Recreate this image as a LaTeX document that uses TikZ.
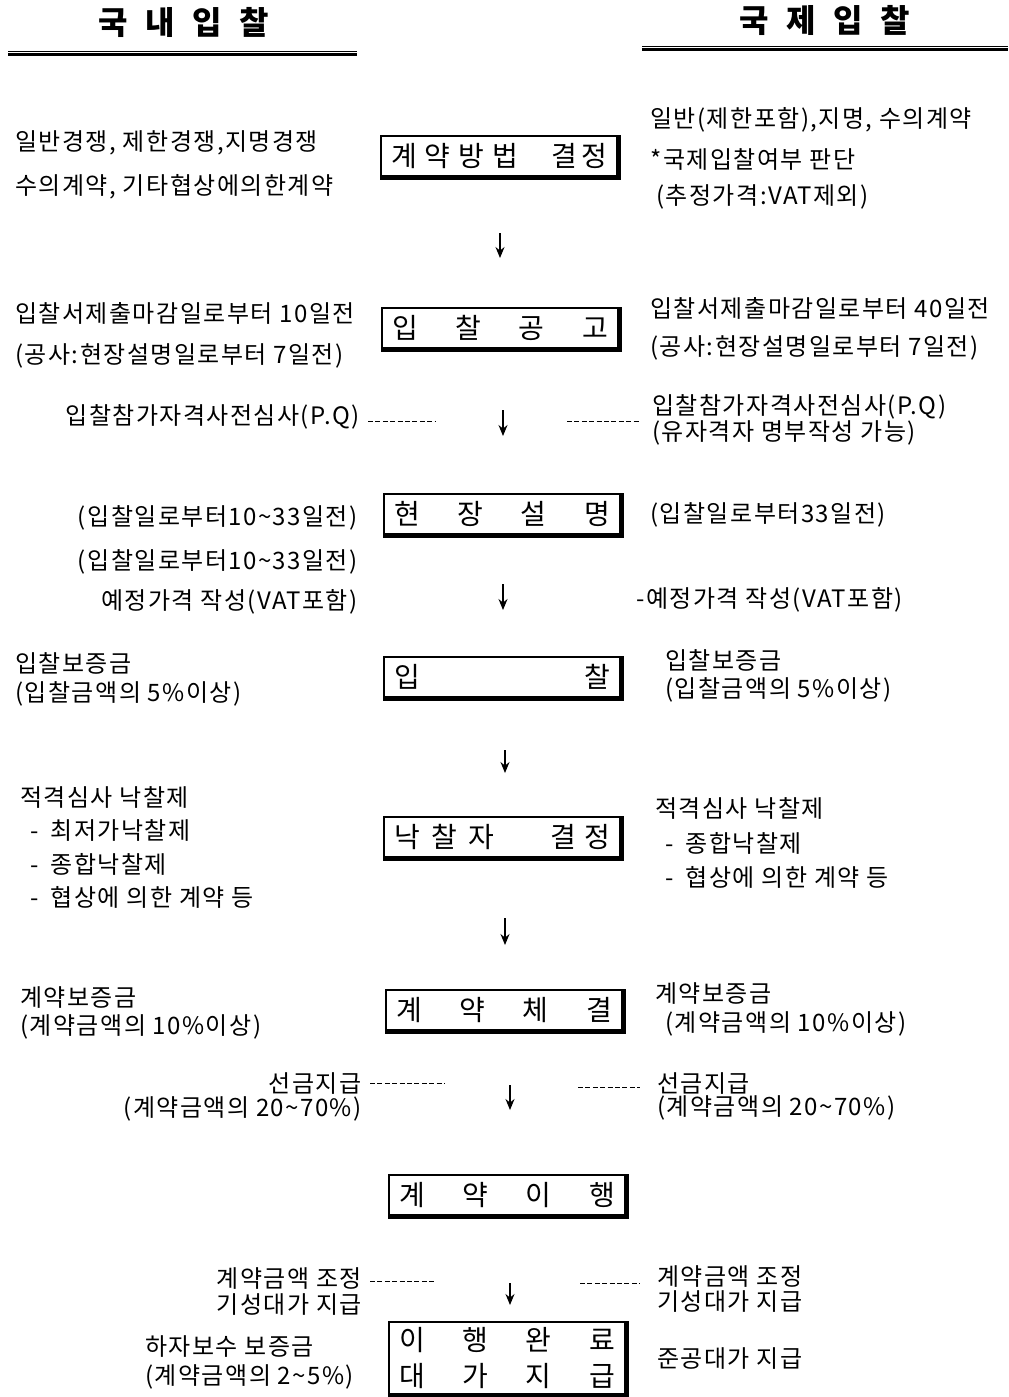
\documentclass[tikz,border=0pt]{standalone}
\usepackage{fontspec}
\setmainfont{Noto Sans CJK KR}
\newfontfamily\bodyfont[LetterSpace=6]{Noto Sans CJK KR}
\usetikzlibrary{arrows.meta}
\begin{document}
\begin{tikzpicture}[x=0.5pt,y=-0.5pt,
 txt/.style={inner sep=0pt, font=\bodyfont\fontsize{12}{14}\selectfont},
 lt/.style={txt, anchor=west},
 rt/.style={txt, anchor=east},
 head/.style={inner sep=0pt, font=\fontsize{16}{18}\selectfont\bfseries},
 flow/.style={draw, line width=0.8pt, minimum width=118pt, minimum height=20pt, inner sep=0pt, font=\fontsize{14}{16}\selectfont},
 arr/.style={line width=0.6pt, -{Stealth[length=5.5pt,width=4.5pt]}},
 dline/.style={line width=0.4pt, dash pattern=on 2.5pt off 1.2pt}
]
\path[use as bounding box, fill=white] (0,0) rectangle (1008,1397);

% headers
\node[head] (h1) at (184,22) {국\hspace{0.55em}내\hspace{0.55em}입\hspace{0.55em}찰};
\node[head] (h2) at (825,20) {국\hspace{0.55em}제\hspace{0.55em}입\hspace{0.55em}찰};
\draw[line width=0.5pt] (8,51) -- (357,51);
\draw[line width=1.2pt] (8,54.5) -- (357,54.5);
\draw[line width=0.5pt] (642,46) -- (1008,46);
\draw[line width=1.2pt] (642,49.5) -- (1008,49.5);

% boxes
\node[flow] (b1) at (499,156) {\makebox[108pt]{계\hfill 약\hfill 방\hfill 법\hskip 0pt plus 4fill 결\hskip 0pt plus 0.5fill 정}};
\node[flow] (b2) at (500,328) {\makebox[108pt]{입\hfill 찰\hfill 공\hfill 고}};
\node[flow] (b3) at (502,514) {\makebox[108pt]{현\hfill 장\hfill 설\hfill 명}};
\node[flow] (b4) at (502,677) {\makebox[108pt]{입\hfill 찰}};
\node[flow] (b5) at (502,837) {\makebox[108pt]{낙\hfill 찰\hfill 자\hskip 0pt plus 5fill 결\hskip 0pt plus 0.7fill 정}};
\node[flow] (b6) at (504,1010) {\makebox[108pt]{계\hfill 약\hfill 체\hfill 결}};
\node[flow] (b7) at (507,1195) {\makebox[108pt]{계\hfill 약\hfill 이\hfill 행}};
\node[flow, minimum height=36pt, align=center, font=\fontsize{14}{18}\selectfont] (b8) at (507,1358) {\makebox[108pt]{이\hfill 행\hfill 완\hfill 료}\\\makebox[108pt]{대\hfill 가\hfill 지\hfill 급}};
\foreach \n in {b1,b2,b3,b4,b5,b6,b7,b8}
  \draw[line width=1.5pt] ([shift={(1.5,0)}]\n.north east) -- ([shift={(1.5,1.5)}]\n.south east) -- ([shift={(0,1.5)}]\n.south west);

% arrows
\coordinate (a1s) at (500,233); \coordinate (a1e) at (500,258);
\coordinate (a2s) at (503,410); \coordinate (a2e) at (503,436);
\coordinate (a3s) at (503,584); \coordinate (a3e) at (503,610);
\coordinate (a4s) at (505,750); \coordinate (a4e) at (505,773);
\coordinate (a5s) at (505,918); \coordinate (a5e) at (505,945);
\coordinate (a6s) at (510,1085); \coordinate (a6e) at (510,1110);
\coordinate (a7s) at (510,1283); \coordinate (a7e) at (510,1305);
\foreach \i in {1,...,7} \draw[arr] (a\i s) -- (a\i e);

% row 1
\node[lt] (t1a) at (15,143) {일반경쟁, 제한경쟁,지명경쟁};
\node[lt] (t1b) at (15,187) {수의계약, 기타협상에의한계약};
\node[lt] (r1a) at (650,120) {일반(제한포함),지명, 수의계약};
\node[lt] (r1b) at (650,159) {*국제입찰여부 판단};
\node[lt] (r1c) at (656,197) {(추정가격:VAT제외)};

% row 2
\node[lt] (t2a) at (15,313) {입찰서제출마감일로부터 10일전};
\node[lt] (t2b) at (15,356) {(공사:현장설명일로부터 7일전)};
\node[lt] (r2a) at (650,308) {입찰서제출마감일로부터 40일전};
\node[lt] (r2b) at (650,348) {(공사:현장설명일로부터 7일전)};

% PQ
\node[rt] (pqL) at (360,417) {입찰참가자격사전심사(P.Q)};
\node[lt] (pqRa) at (652,407) {입찰참가자격사전심사(P.Q)};
\node[lt] (pqRb) at (652,433) {(유자격자 명부작성 가능)};
\coordinate (pqLe) at (435,421);
\coordinate (pqRs) at (567,421);
\coordinate (pqRe) at (640,421);
\draw[dline] ([xshift=4pt]pqL.east |- pqLe) -- (pqLe);
\draw[dline] (pqRs) -- (pqRe);

% row 3
\node[rt] (t3a) at (358,518) {(입찰일로부터10\textasciitilde 33일전)};
\node[rt] (t3b) at (358,562) {(입찰일로부터10\textasciitilde 33일전)};
\node[rt] (t3c) at (358,602) {예정가격 작성(VAT포함)};
\node[lt] (r3a) at (650,515) {(입찰일로부터33일전)};
\node[lt] (r3c) at (636,600) {-예정가격 작성(VAT포함)};

% row 4
\node[lt] (t4a) at (15,663) {입찰보증금};
\node[lt] (t4b) at (15,694) {(입찰금액의 5\%이상)};
\node[lt] (r4a) at (665,660) {입찰보증금};
\node[lt] (r4b) at (665,690) {(입찰금액의 5\%이상)};

% row 5
\node[lt] (t5a) at (20,797) {적격심사 낙찰제};
\node[lt] (t5b) at (30,830) {-\hspace{0.5em}최저가낙찰제};
\node[lt] (t5c) at (30,864) {-\hspace{0.5em}종합낙찰제};
\node[lt] (t5d) at (30,897) {-\hspace{0.5em}협상에 의한 계약 등};
\node[lt] (r5a) at (655,808) {적격심사 낙찰제};
\node[lt] (r5b) at (665,843) {-\hspace{0.5em}종합낙찰제};
\node[lt] (r5c) at (665,877) {-\hspace{0.5em}협상에 의한 계약 등};

% row 6
\node[lt] (t6a) at (20,997) {계약보증금};
\node[lt] (t6b) at (20,1027) {(계약금액의 10\%이상)};
\node[lt] (r6a) at (655,993) {계약보증금};
\node[lt] (r6b) at (665,1024) {(계약금액의 10\%이상)};

% row 7
\node[rt] (t7a) at (362,1083) {선금지급};
\node[rt] (t7b) at (362,1109) {(계약금액의 20\textasciitilde 70\%)};
\node[lt] (r7a) at (657,1083) {선금지급};
\node[lt] (r7b) at (657,1108) {(계약금액의 20\textasciitilde 70\%)};
\coordinate (d7Le) at (445,1083);
\coordinate (d7Rs) at (578,1087);
\coordinate (d7Re) at (640,1087);
\draw[dline] ([xshift=4pt]t7a.east |- d7Le) -- (d7Le);
\draw[dline] (d7Rs) -- (d7Re);

% row 8
\node[rt] (t8a) at (362,1278) {계약금액 조정};
\node[rt] (t8b) at (362,1304) {기성대가 지급};
\node[lt] (r8a) at (657,1276) {계약금액 조정};
\node[lt] (r8b) at (657,1301) {기성대가 지급};
\coordinate (d8Le) at (435,1281);
\coordinate (d8Rs) at (580,1283);
\coordinate (d8Re) at (640,1283);
\draw[dline] ([xshift=4pt]t8a.east |- d8Le) -- (d8Le);
\draw[dline] (d8Rs) -- (d8Re);

% row 9
\node[lt] (t9a) at (145,1346) {하자보수 보증금};
\node[lt] (t9b) at (145,1377) {(계약금액의 2\textasciitilde 5\%)};
\node[lt] (r9) at (657,1358) {준공대가 지급};
\end{tikzpicture}
\end{document}
